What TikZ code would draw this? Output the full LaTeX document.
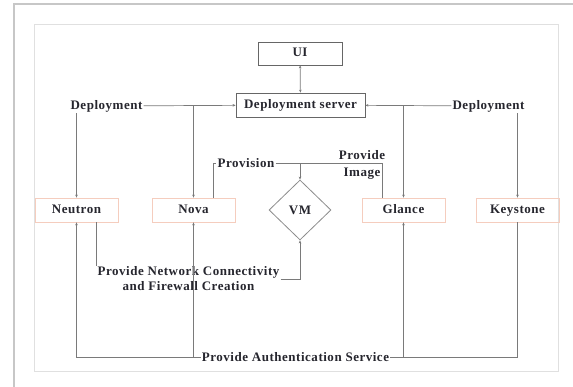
\documentclass[tikz,border=0pt]{standalone}
\usepackage{fontspec}
\setmainfont{Liberation Serif}[LetterSpace=4]
\usetikzlibrary{arrows.meta,shapes.geometric}
\definecolor{wire}{HTML}{7A7A7A}
\definecolor{peach}{HTML}{F5CDBE}
\definecolor{ink}{HTML}{26262E}
\tikzset{
  lbl/.style={font=\fontsize{13}{14}\selectfont\bfseries, text=ink, inner sep=1pt, align=center},
  greybox/.style={lbl, draw=black!60, line width=0.8pt, minimum height=23pt, text height=1.45ex, text depth=0pt},
  compbox/.style={lbl, draw=peach, line width=0.8pt, minimum width=83pt, minimum height=24pt, text height=1.45ex, text depth=0pt},
  wirestyle/.style={draw=wire, line width=0.7pt, >={Stealth[length=3pt,width=2.6pt]}},
}
\begin{document}
\begin{tikzpicture}[x=1pt,y=-1pt]
		%%%%% START %%%%%
		\useasboundingbox (0,0) rectangle (573,387);
		
		\draw[line width=2.5pt, color=black!22] (14, 387) -- (14, 4) -- (573, 4);
		\draw[line width=0.8pt, color=black!12] (34, 24) rectangle (558, 371);
		
		\node[greybox, minimum width=84pt] (ui) at (300, 53.5) {UI};
		\node[greybox, minimum width=129pt, minimum height=24pt] (srv) at (300.5, 105) {Deployment server};
		
		\node[lbl] (depL) at (106.5, 106) {Deployment};
		\node[lbl] (depR) at (488.5, 106) {Deployment};
		
		\node[compbox] (neutron) at (76.5, 210) {Neutron};
		\node[compbox] (nova) at (193.5, 210) {Nova};
		\node[compbox] (glance) at (403.5, 210) {Glance};
		\node[compbox] (keystone) at (517.5, 210) {Keystone};
		\node[diamond, draw=black!45, line width=0.8pt, minimum width=62pt, minimum height=60pt, inner sep=0pt, lbl] (vm) at (300, 210) {VM};
		
		\node[lbl] (prov) at (246, 163) {Provision};
		\node[lbl, font=\fontsize{13}{17}\selectfont\bfseries] (img) at (362, 164.5) {Provide\\Image};
		\node[lbl, font=\fontsize{13}{15}\selectfont\bfseries] (net) at (188.5, 279) {Provide Network Connectivity\\and Firewall Creation};
		\node[lbl] (auth) at (295.5, 357) {Provide Authentication Service};
		
		\draw[wirestyle, <->] (ui) -- (srv);
		\draw[wirestyle, ->] (depL) -- (srv);
		\draw[wirestyle, ->] (depR) -- (srv);
		\draw[wirestyle, ->] (neutron |- depL.south) -- (neutron);
		\draw[wirestyle, ->] (nova |- depL) -- (nova);
		\draw[wirestyle, ->] (glance |- depR) -- (glance);
		\draw[wirestyle, ->] (keystone |- depR.south) -- (keystone);
		
		\coordinate (join) at (vm.north |- prov);
		\draw[wirestyle] ([xshift=19.5pt]nova.north) |- (prov.west);
		\draw[wirestyle, ->] (prov.east) -| (vm.north);
		\draw[wirestyle] ([xshift=-21.5pt]glance.north) |- (join);
		
		\draw[wirestyle] ([xshift=19.5pt]neutron.south) -- ([xshift=19.5pt]neutron.south |- net.north);
		\draw[wirestyle, ->] (net.east) -| (vm.south);
		
		\draw[wirestyle, ->] (auth.west) -| (neutron.south);
		\draw[wirestyle, ->] (nova |- auth) -- (nova);
		\draw[wirestyle, ->] (glance |- auth) -- (glance);
		\draw[wirestyle] (keystone.south) |- (auth.east);
		
		%%%%% END %%%%%
	\end{tikzpicture}
\end{document}
